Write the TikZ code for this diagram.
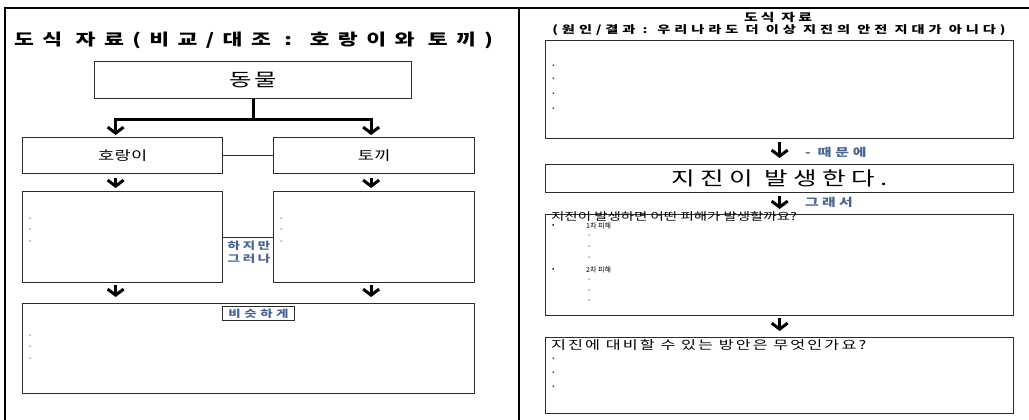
\documentclass[tikz,border=0pt]{standalone}
\usepackage{graphicx}
\usepackage{fontspec}
\setmainfont{Noto Sans CJK KR}
\usetikzlibrary{arrows.meta,calc}
\definecolor{lblue}{RGB}{70,100,150}
\definecolor{boxline}{RGB}{45,45,45}
% wide text: size, letter spacing, text
\newcommand{\wt}[3]{\scalebox{1.35}[1]{\fontsize{#1}{#1}\selectfont\addfontfeature{LetterSpace=#2}#3}}
\tikzset{
  box/.style={draw=boxline, line width=1.3pt, anchor=north west, inner sep=0pt},
  arr/.style={line width=3pt, -{Straight Barb[length=6pt,width=16pt]}},
  link/.style={line width=1.3pt, draw=boxline},
  itm/.style={inner sep=0pt, anchor=west, font=\fontsize{7}{7}\selectfont},
  blu/.style={inner sep=0pt, text=lblue, font=\bfseries},
}
\begin{document}
\begin{tikzpicture}[x=1pt,y=-1pt]
\useasboundingbox (0,0) rectangle (1029,420);
% frame
\draw[line width=1.2pt] (5,420) -- (5,8) -- (1029,8);
\draw[line width=1.2pt] (519,8) -- (519,420);

% ---------- left panel ----------
\node[inner sep=0pt, anchor=west, font=\bfseries] (ltitle) at (14,40) {\wt{16}{39}{도식 자료(비교/대조 : 호랑이와 토끼)}};
\node[box, minimum width=317pt, minimum height=37pt] (animal) at (94,61) {\wt{18}{10}{동물}};
\node[box, minimum width=200pt, minimum height=36pt] (tiger) at (22,137) {\wt{13}{2}{호랑이}};
\node[box, minimum width=201pt, minimum height=36pt] (rabbit) at (273,137) {\wt{13}{2}{토끼}};
\node[box, minimum width=200pt, minimum height=91pt] (tdet) at (22,191) {};
\node[box, minimum width=201pt, minimum height=91pt] (rdet) at (273,191) {};
\node[box, minimum width=452pt, minimum height=90pt] (sim) at (22,303) {};
\node[box, line width=1.1pt, minimum width=72pt, minimum height=14pt, text=lblue, font=\bfseries] (simlab) at (222,306) {\wt{10}{26}{비슷하게}};

\coordinate (jn) at ($(animal.south)+(0,20)$);
\draw[line width=3pt] (animal.south) -- (jn);
\draw[line width=3pt] ([xshift=-8.5pt]tiger.north |- jn) -- ([xshift=-1.5pt]rabbit.north |- jn);
\draw[arr, shorten >=2pt] ([xshift=-7pt]tiger.north |- jn) -- ([xshift=-7pt]tiger.north);
\draw[arr, shorten >=2pt] ([xshift=-3pt]rabbit.north |- jn) -- ([xshift=-3pt]rabbit.north);

\draw[link] (tiger) -- (rabbit);
\draw[link] (tdet) -- (rdet);
\node[blu, align=center] (but) at (249,252) {\wt{10}{20}{하지만}\\[1pt]\wt{10}{20}{그러나}};

\draw[arr, shorten <=4pt, shorten >=3pt] ([xshift=-7pt]tiger.south) -- ([xshift=-7pt]tdet.north);
\draw[arr, shorten <=4pt, shorten >=3pt] ([xshift=-3pt]rabbit.south) -- ([xshift=-3pt]rdet.north);
\draw[arr, shorten <=2pt, shorten >=6pt] ([xshift=-7pt]tdet.south) -- ([xshift=-7pt]tdet.south |- sim.north);
\draw[arr, shorten <=2pt, shorten >=6pt] ([xshift=-3pt]rdet.south) -- ([xshift=-3pt]rdet.south |- sim.north);

\foreach \dy [count=\i] in {28,39,51} {
  \node[itm] (tb\i) at ($(tdet.north west)+(7,\dy)$) {-};
  \node[itm] (rb\i) at ($(rdet.north west)+(7,\dy)$) {-};
}
\foreach \dy [count=\i] in {33,44,56} {
  \node[itm] (sb\i) at ($(sim.north west)+(7,\dy)$) {-};
}

% ---------- right panel ----------
\node[inner sep=0pt, font=\bfseries] (rtitle1) at (778,17) {\wt{11}{22}{도식 자료}};
\node[inner sep=0pt, font=\bfseries] (rtitle2) at (779,30) {\wt{10.5}{28}{(원인/결과 : 우리나라도 더 이상 지진의 안전 지대가 아니다)}};

\node[box, minimum width=468pt, minimum height=98pt] (c1) at (545,40) {};
\foreach \dy [count=\i] in {27,40,55,70} {
  \node[itm, font=\fontsize{6}{6}\selectfont] (cb\i) at ($(c1.north west)+(7,\dy)$) {*};
}
\node[box, minimum width=468pt, minimum height=28pt] (quake) at (545,164) {\wt{19}{21}{지진이 발생한다.}};
\node[box, minimum width=468pt, minimum height=101pt] (c3) at (545,214) {};
\node[box, minimum width=468pt, minimum height=76pt] (c4) at (545,337) {};

\draw[arr, shorten <=3pt, shorten >=6pt] (c1.south) -- (quake.north);
\draw[arr, shorten <=3pt, shorten >=5pt] (quake.south) -- (c3.north);
\draw[arr, shorten <=2pt, shorten >=6pt] (c3.south) -- (c4.north);
\node[blu, anchor=west] (because) at (805,152) {\wt{11}{25}{- 때문에}};
\node[blu, anchor=west] (so) at (805,202) {\wt{11}{22}{그래서}};

\node[inner sep=0pt, anchor=north west] (q1) at ($(c3.north west)+(6,-3)$) {\wt{10.7}{0}{지진이 발생하면 어떤 피해가 발생할까요?}};
\node[itm] (d1) at ($(c3.north west)+(7,12)$) {•};
\node[itm] (d1t) at ($(c3.north west)+(41,12)$) {1차 피해};
\foreach \dy [count=\i] in {22,33,44} {
  \node[itm] (d1b\i) at ($(c3.north west)+(43,\dy)$) {-};
}
\node[itm] (d2) at ($(c3.north west)+(7,56)$) {•};
\node[itm] (d2t) at ($(c3.north west)+(41,56)$) {2차 피해};
\foreach \dy [count=\i] in {66,77,87} {
  \node[itm] (d2b\i) at ($(c3.north west)+(43,\dy)$) {-};
}

\node[inner sep=0pt, anchor=west] (q2) at ($(c4.north west)+(6,8)$) {\wt{12}{13}{지진에 대비할 수 있는 방안은 무엇인가요?}};
\foreach \dy [count=\i] in {23,37,51} {
  \node[itm, font=\fontsize{6}{6}\selectfont] (eb\i) at ($(c4.north west)+(7,\dy)$) {*};
}
\end{tikzpicture}
\end{document}
